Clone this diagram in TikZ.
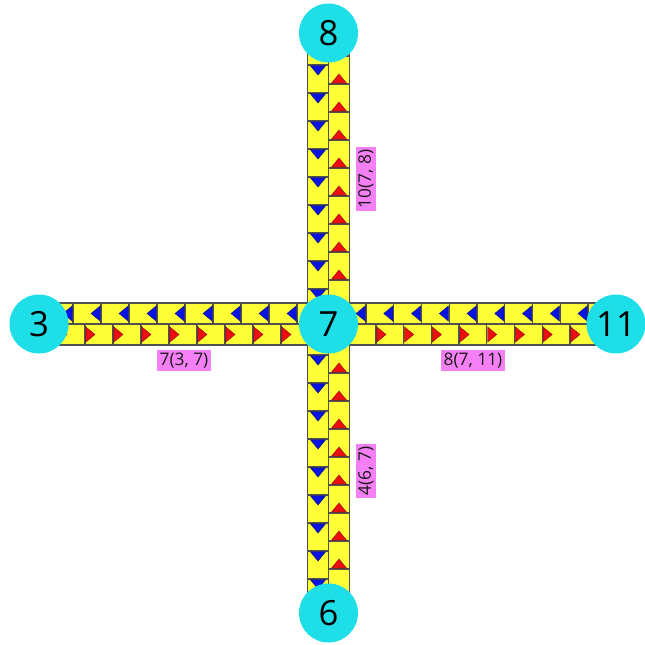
\documentclass[tikz,border=0pt]{standalone}
\usepackage{fontspec}
\setmainfont{Open Sans}
\usetikzlibrary{backgrounds,calc}
\definecolor{nodecyan}{RGB}{30,222,232}
\definecolor{laneyellow}{RGB}{255,255,56}
\definecolor{lanegray}{RGB}{80,80,80}
\definecolor{triblue}{RGB}{10,20,225}
\definecolor{trired}{RGB}{235,15,15}
\definecolor{labelpink}{RGB}{245,128,245}
\tikzset{
  vertex/.style={circle, fill=nodecyan, minimum size=44.25pt, inner sep=0pt,
    font=\fontsize{26}{26}\selectfont},
  lane/.style={fill=laneyellow, draw=lanegray, line width=1.25pt},
  divider/.style={draw=lanegray, line width=0.95pt},
  bluetri/.style={fill=triblue, draw=triblue!55!black, line width=0.3pt},
  redtri/.style={fill=trired, draw=trired!55!black, line width=0.3pt},
  elabel/.style={fill=labelpink, inner sep=2pt, text=black!90,
    font=\fontsize{13}{13}\selectfont}
}
\begin{document}
\begin{tikzpicture}[x=0.75pt,y=-0.75pt]
\useasboundingbox (0,0) rectangle (645,644);
% vertices
\node[vertex] (n8) at (328.5,33) {8};
\node[vertex] (n3) at (39,324) {3};
\node[vertex] (n7) at (328.5,324) {7};
\node[vertex] (n11) at (616,324) {11};
\node[vertex] (n6) at (328.5,613) {6};
% edge labels
\node[elabel] (l37) at (184,360.5) {7(3, 7)};
\node[elabel] (l711) at (473,360.5) {8(7, 11)};
\node[elabel, rotate=90] (l78) at (366,179) {10(7, 8)};
\node[elabel, rotate=90] (l67) at (366,471) {4(6, 7)};
\begin{scope}[on background layer]
% ---- edge 3 -- 7 (horizontal, left) ----
\draw[lane] ($(n3.center)+(0,-21)$) rectangle (n7.center);
\draw[lane] (n3.center) rectangle ($(n7.center)+(0,21)$);
% ---- edge 7 -- 11 (horizontal, right) ----
\draw[lane] ($(n7.center)+(0,-21)$) rectangle (n11.center);
\draw[lane] (n7.center) rectangle ($(n11.center)+(0,21)$);
% ---- edge 8 -- 7 (vertical, top) ----
\draw[lane] ($(n8.center)+(-21,0)$) rectangle (n7.center);
\draw[lane] (n8.center) rectangle ($(n7.center)+(21,0)$);
% ---- edge 7 -- 6 (vertical, bottom) ----
\draw[lane] ($(n7.center)+(-21,0)$) rectangle (n6.center);
\draw[lane] (n7.center) rectangle ($(n6.center)+(21,0)$);
% cells: top-left lane (leftward, blue)
\foreach \k in {0,...,9}{
  \pgfmathsetmacro\b{45+28*\k}
  \draw[divider] (\b,303) -- (\b,324);
  \filldraw[bluetri] (\b-0.9,306) -- (\b-0.9,321) -- (\b-10,313.5) -- cycle;
}
% cells: top-right lane (leftward, blue)
\foreach \k in {0,...,9}{
  \pgfmathsetmacro\b{366+27.75*\k}
  \draw[divider] (\b,303) -- (\b,324);
  \filldraw[bluetri] (\b-0.9,306) -- (\b-0.9,321) -- (\b-10,313.5) -- cycle;
}
% cells: bottom-left lane (rightward, red)
\foreach \k in {0,...,9}{
  \pgfmathsetmacro\b{57+28*\k}
  \draw[divider] (\b,324) -- (\b,345);
  \filldraw[redtri] (\b+0.9,327) -- (\b+0.9,342) -- (\b+10,334.5) -- cycle;
}
% cells: bottom-right lane (rightward, red)
\foreach \k in {0,...,8}{
  \pgfmathsetmacro\b{376+27.7*\k}
  \draw[divider] (\b,324) -- (\b,345);
  \filldraw[redtri] (\b+0.9,327) -- (\b+0.9,342) -- (\b+10,334.5) -- cycle;
}
% cells: vertical top, left lane (downward, blue)
\foreach \k in {0,...,9}{
  \pgfmathsetmacro\b{37+28*\k}
  \draw[divider] (307.5,\b) -- (328.5,\b);
  \filldraw[bluetri] (310.5,\b+0.9) -- (325.5,\b+0.9) -- (318,\b+10) -- cycle;
}
% cells: vertical top, right lane (upward, red)
\foreach \k in {0,...,9}{
  \pgfmathsetmacro\b{56+28*\k}
  \draw[divider] (328.5,\b) -- (349.5,\b);
  \filldraw[redtri] (331.5,\b-0.9) -- (346.5,\b-0.9) -- (339,\b-10) -- cycle;
}
% cells: vertical bottom, left lane (downward, blue)
\foreach \k in {0,...,8}{
  \pgfmathsetmacro\b{355+28*\k}
  \draw[divider] (307.5,\b) -- (328.5,\b);
  \filldraw[bluetri] (310.5,\b+0.9) -- (325.5,\b+0.9) -- (318,\b+10) -- cycle;
}
% cells: vertical bottom, right lane (upward, red)
\foreach \k in {0,...,8}{
  \pgfmathsetmacro\b{373+28*\k}
  \draw[divider] (328.5,\b) -- (349.5,\b);
  \filldraw[redtri] (331.5,\b-0.9) -- (346.5,\b-0.9) -- (339,\b-10) -- cycle;
}
\end{scope}
\end{tikzpicture}
\end{document}
